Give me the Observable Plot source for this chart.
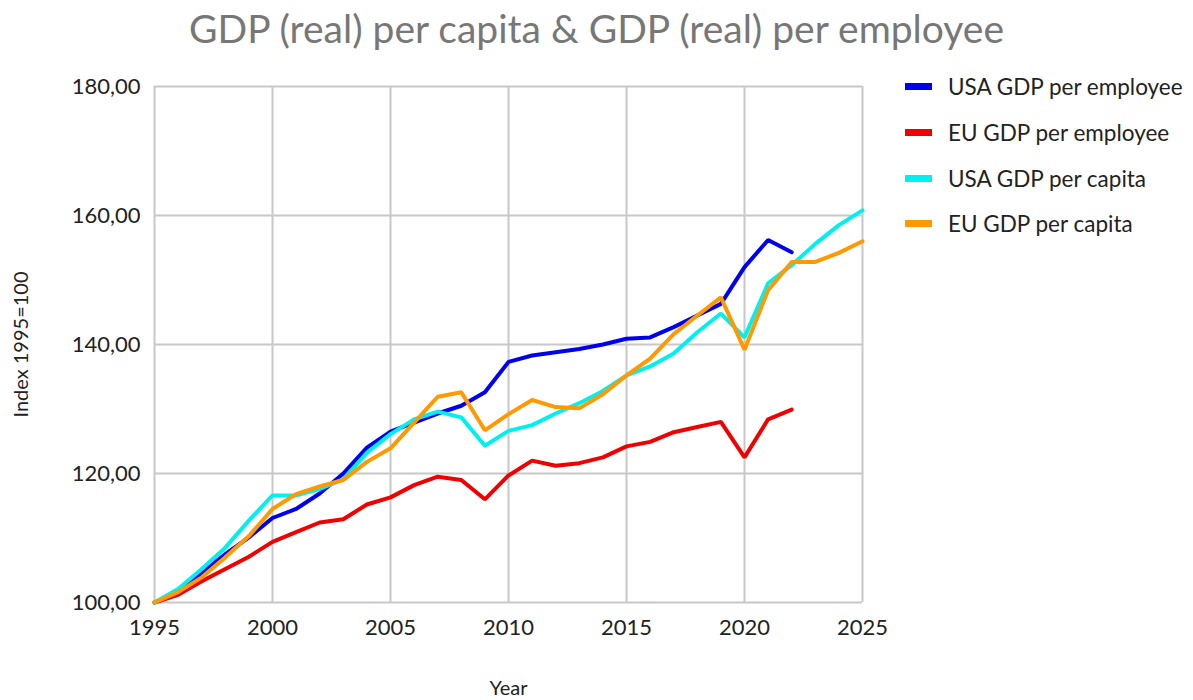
<!DOCTYPE html>
<html>
<head>
<meta charset="utf-8">
<script src="https://cdn.jsdelivr.net/npm/d3@7"></script>
<script src="https://cdn.jsdelivr.net/npm/@observablehq/plot@0.6"></script>
<style>
  html, body { margin: 0; padding: 0; background: #fff; }
  #wrap { position: relative; width: 1193px; height: 700px; font-family: Lato, "Open Sans", sans-serif; }
  #title { position: absolute; left: 0; top: 3px; width: 1193px; text-align: center; font-size: 39px; color: #777; line-height: 50px; }
  #legend { position: absolute; left: 905px; top: 64px; }
  .item { display: flex; align-items: center; height: 45.7px; font-size: 22.5px; color: #222; }
  .sw { width: 27px; height: 7px; margin-right: 16px; }
  #chart { position: absolute; left: 0; top: 0; }
  g[aria-label="x-axis tick label"], g[aria-label="y-axis tick label"] { font-size: 22px; }
</style>
</head>
<body>
<div id="wrap">
  <div id="chart"></div>
  <div id="title">GDP (real) per capita &amp; GDP (real) per employee</div>
  <div id="legend"></div>
</div>
<script>
const years = d3.range(1995, 2026);
const seriesNames = ["USA GDP per employee", "EU GDP per employee", "USA GDP per capita", "EU GDP per capita"];
const seriesColors = ["#0000f0", "#f00000", "#00f0f0", "#ff9900"];
const usaEmployee = [100, 101.6, 104.6, 107.5, 110.1, 113.1, 114.5, 116.9, 120.0, 124.0, 126.5, 127.9, 129.3, 130.5, 132.6, 137.3, 138.3, 138.8, 139.3, 140.0, 140.9, 141.1, 142.7, 144.5, 146.3, 152.0, 156.2, 154.3];
const euEmployee = [100, 101.2, 103.3, 105.2, 107.1, 109.4, 110.9, 112.4, 112.9, 115.2, 116.3, 118.2, 119.5, 119.0, 116.0, 119.7, 122.0, 121.2, 121.6, 122.5, 124.2, 124.9, 126.4, 127.2, 128.0, 122.5, 128.4, 129.9];
const usaCapita = [100, 102.1, 105.2, 108.5, 112.7, 116.6, 116.6, 117.6, 119.1, 123.2, 126.1, 128.4, 129.6, 128.7, 124.3, 126.6, 127.5, 129.3, 130.9, 132.8, 135.2, 136.6, 138.6, 141.9, 144.8, 141.1, 149.5, 152.3, 155.6, 158.5, 160.8];
const euCapita = [100, 101.6, 103.9, 107.0, 110.3, 114.5, 116.8, 118.0, 119.0, 121.8, 123.9, 127.9, 131.9, 132.6, 126.7, 129.2, 131.4, 130.3, 130.1, 132.3, 135.2, 137.8, 141.6, 144.5, 147.3, 139.2, 148.4, 152.8, 152.8, 154.2, 156.0];
const xTicks = [1995, 2000, 2005, 2010, 2015, 2020, 2025];
const yTicks = [100, 120, 140, 160, 180];

const allSeries = [usaEmployee, euEmployee, usaCapita, euCapita];
const rows = [];
allSeries.forEach((vals, i) => vals.forEach((v, j) => rows.push({year: years[j], value: v, series: seriesNames[i]})));

const chart = Plot.plot({
  width: 1193,
  height: 700,
  marginLeft: 154,
  marginRight: 331,
  marginTop: 86,
  marginBottom: 98,
  style: {fontFamily: "Lato, 'Open Sans', sans-serif", fontSize: "20px", color: "#222", background: "#fff"},
  x: {domain: [1995, 2025], ticks: xTicks, tickFormat: d => String(d), label: "Year", labelArrow: "none", labelAnchor: "center", labelOffset: 92, tickSize: 0, tickPadding: 17},
  y: {domain: [100, 180], ticks: yTicks, tickFormat: d => d.toFixed(2).replace(".", ","), label: "Index 1995=100", labelAnchor: "center", labelOffset: 141, labelArrow: "none", tickSize: 0, tickPadding: 14},
  color: {domain: seriesNames, range: seriesColors},
  marks: [
    Plot.gridX(xTicks, {stroke: "#c8c8c8", strokeOpacity: 1, strokeWidth: 2}),
    Plot.gridY(yTicks, {stroke: "#c8c8c8", strokeOpacity: 1, strokeWidth: 2}),
    Plot.line(rows, {x: "year", y: "value", z: "series", stroke: "series", strokeWidth: 4, strokeLinejoin: "miter"})
  ]
});
document.getElementById("chart").appendChild(chart);

const legend = document.getElementById("legend");
seriesNames.forEach((n, i) => {
  const it = document.createElement("div");
  it.className = "item";
  it.innerHTML = `<div class="sw" style="background:${seriesColors[i]}"></div><span>${n}</span>`;
  legend.appendChild(it);
});
</script>
</body>
</html>
